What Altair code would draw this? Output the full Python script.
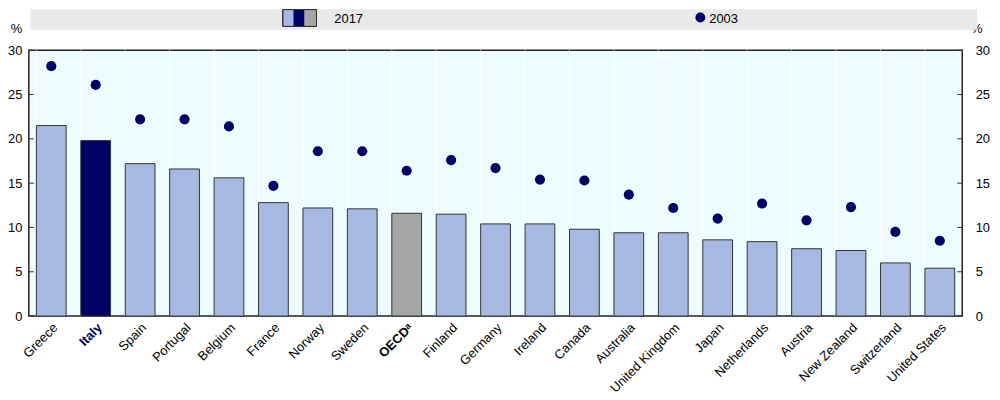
import altair as alt
import pandas as pd

countries = ["Greece", "Italy", "Spain", "Portugal", "Belgium", "France", "Norway", "Sweden",
             "OECDᵃ", "Finland", "Germany", "Ireland", "Canada", "Australia", "United Kingdom",
             "Japan", "Netherlands", "Austria", "New Zealand", "Switzerland", "United States"]
v2017 = [21.5, 19.8, 17.2, 16.6, 15.6, 12.8, 12.2, 12.1, 11.6, 11.5, 10.4, 10.4, 9.8, 9.4, 9.4,
         8.6, 8.4, 7.6, 7.4, 6.0, 5.4]
v2003 = [28.2, 26.1, 22.2, 22.2, 21.4, 14.7, 18.6, 18.6, 16.4, 17.6, 16.7, 15.4, 15.3, 13.7, 12.2,
         11.0, 12.7, 10.8, 12.3, 9.5, 8.5]
groups = ["other", "Italy", "other", "other", "other", "other", "other", "other", "OECD",
          "other", "other", "other", "other", "other", "other", "other", "other", "other",
          "other", "other", "other"]
y_ticks = [0, 5, 10, 15, 20, 25, 30]
legend_labels = ["2017", "2003"]

W, H = 941, 268
FONT = "Liberation Sans, Arial"
NAVY = "#000066"
LIGHT = "#A7B9E3"
GREY = "#A6A6A6"

df = pd.DataFrame({"country": countries, "v2017": v2017, "v2003": v2003, "group": groups})
ticks_df = pd.DataFrame({"t": y_ticks})

xscale = alt.Scale(domain=countries, paddingInner=0.33, paddingOuter=0.17)
yscale = alt.Scale(domain=[0, 30], nice=False)

base = alt.Chart(df)

grid = base.mark_rule(color="white", strokeWidth=1).encode(
    x=alt.X("country:N", scale=xscale, axis=None, bandPosition=0),
    y=alt.datum(0, scale=yscale, axis=None),
    y2=alt.datum(30),
)

bars = base.mark_bar(stroke="#333333", strokeWidth=1).encode(
    x=alt.X("country:N", scale=xscale, sort=countries, axis=alt.Axis(
        title=None, labelAngle=-45, labelAlign="right", labelBaseline="top",
        labelFont=FONT, labelFontSize=13, labelPadding=5, ticks=False, domain=False,
        labelOverlap=False, labelLimit=200,
        labelColor=alt.expr("datum.value == 'Italy' ? '#000066' : '#000000'"),
        labelFontWeight=alt.expr("(datum.value == 'Italy' || datum.value == 'OECDᵃ') ? 'bold' : 'normal'"),
    )),
    y=alt.Y("v2017:Q", scale=yscale, axis=alt.Axis(
        orient="left", values=y_ticks, title="%", titleAngle=0, titleX=-13, titleY=-22,
        titleAlign="center", titleBaseline="middle", titleFont=FONT, titleFontSize=13,
        titleFontWeight="normal", titleColor="black",
        labelFont=FONT, labelFontSize=13, labelPadding=7, labelColor="black",
        ticks=False, domain=False, grid=False)),
    color=alt.Color("group:N", scale=alt.Scale(domain=["other", "Italy", "OECD"],
                                               range=[LIGHT, NAVY, GREY]), legend=None),
)

points = base.mark_point(filled=True, color=NAVY, size=105, opacity=1).encode(
    x=alt.X("country:N", scale=xscale, sort=countries, axis=None),
    y=alt.Y("v2003:Q", scale=yscale, axis=alt.Axis(
        orient="right", values=y_ticks, title="%", titleAngle=0, titleX=14, titleY=-22,
        titleAlign="center", titleBaseline="middle", titleFont=FONT, titleFontSize=13,
        titleFontWeight="normal", titleColor="black",
        labelFont=FONT, labelFontSize=13, labelPadding=13, labelColor="black",
        ticks=False, domain=False, grid=False)),
)

tick_base = alt.Chart(ticks_df)
lticks = tick_base.mark_rule(color="#333333").encode(
    y=alt.Y("t:Q", scale=yscale, axis=None), x=alt.value(0), x2=alt.value(5))
rticks = tick_base.mark_rule(color="#333333").encode(
    y=alt.Y("t:Q", scale=yscale, axis=None), x=alt.value(W - 5), x2=alt.value(W))

# Legend band
leg = alt.Chart(pd.DataFrame({"label": legend_labels}))
band = leg.mark_rect(color="#E9E9E9").encode(
    x=alt.value(2), x2=alt.value(956), y=alt.value(-41), y2=alt.value(-21))
s1 = leg.mark_rect(color=LIGHT).encode(x=alt.value(256), x2=alt.value(267), y=alt.value(-41), y2=alt.value(-24))
s2 = leg.mark_rect(color=NAVY).encode(x=alt.value(267), x2=alt.value(278), y=alt.value(-41), y2=alt.value(-24))
s3 = leg.mark_rect(color=GREY).encode(x=alt.value(278), x2=alt.value(290), y=alt.value(-41), y2=alt.value(-24))
sbox = leg.mark_rect(fill=None, stroke="#333333", strokeWidth=1).encode(
    x=alt.value(256), x2=alt.value(290), y=alt.value(-41), y2=alt.value(-24))
t2017 = leg.transform_filter("datum.label == '2017'").mark_text(
    align="left", baseline="middle", font=FONT, fontSize=13, color="black").encode(
    text="label:N", x=alt.value(308), y=alt.value(-31))
dot = leg.transform_filter("datum.label == '2003'").mark_point(
    filled=True, color=NAVY, size=100, opacity=1).encode(x=alt.value(677), y=alt.value(-33))
t2003 = leg.transform_filter("datum.label == '2003'").mark_text(
    align="left", baseline="middle", font=FONT, fontSize=13, color="black").encode(
    text="label:N", x=alt.value(686), y=alt.value(-31))

chart = alt.layer(grid, bars, points, lticks, rticks, band, s1, s2, s3, sbox, t2017, dot, t2003).resolve_axis(
    y="independent", x="independent"
).properties(
    width=W, height=H,
    autosize=alt.AutoSizeParams(type="none"),
    padding={"left": 21, "top": 41, "right": 30, "bottom": 80},
).configure_view(
    fill="#EFFCFF", stroke="#222222", strokeWidth=1.5
)

chart.save("out.html", embed_options={"renderer": "svg", "actions": False})
